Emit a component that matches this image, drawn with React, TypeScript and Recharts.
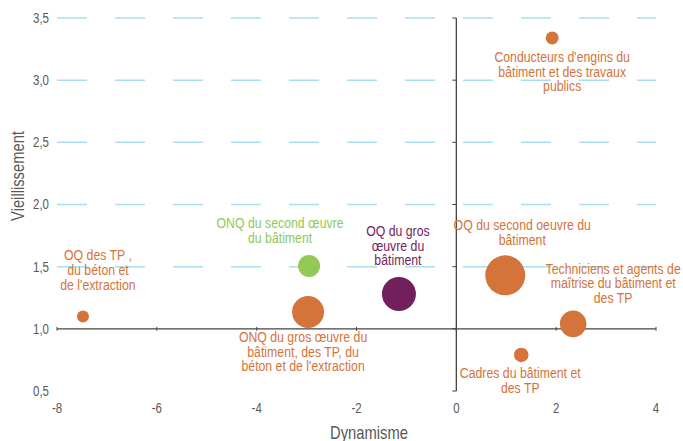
import { ScatterChart, Scatter, XAxis, YAxis, ZAxis, ReferenceLine, Cell } from "recharts";

// Métiers du bâtiment et des TP : dynamisme vs vieillissement, taille = effectifs
const metiers = [
    "OQ des TP, du béton et de l'extraction",
    "ONQ du second œuvre du bâtiment",
    "ONQ du gros œuvre du bâtiment, des TP, du béton et de l'extraction",
    "OQ du gros œuvre du bâtiment",
    "OQ du second oeuvre du bâtiment",
    "Conducteurs d'engins du bâtiment et des travaux publics",
    "Techniciens et agents de maîtrise du bâtiment et des TP",
    "Cadres du bâtiment et des TP",
];
const dynamisme = [-7.48, -2.95, -2.97, -1.15, 0.98, 1.92, 2.34, 1.3];
const vieillissement = [1.1, 1.505, 1.135, 1.28, 1.43, 3.34, 1.04, 0.79];
const effectifs = [36, 121, 256, 289, 400, 42, 177, 53];
const famille = ["tp", "onq", "tp", "oq", "tp", "tp", "tp", "tp"];

// libellés affichés (retours à la ligne comme sur le graphique)
const libelles = [
    ["OQ des TP ,", "du béton et", "de l'extraction"],
    ["ONQ du second œuvre", "du bâtiment"],
    ["ONQ du gros œuvre du", "bâtiment, des TP, du", "béton et de l'extraction"],
    ["OQ du gros", "œuvre du", "bâtiment"],
    ["OQ du second oeuvre du", "bâtiment"],
    ["Conducteurs d'engins du", "bâtiment et des travaux", "publics"],
    ["Techniciens et agents de", "maîtrise du bâtiment et", "des TP"],
    ["Cadres du bâtiment et", "des TP"],
];

const xTicks = [-8, -6, -4, -2, 0, 2, 4];
const yTicks = [0.5, 1.0, 1.5, 2.0, 2.5, 3.0, 3.5];
const gridValues = [1.5, 2.0, 2.5, 3.0, 3.5];

// layout only: offset of first label line from the bubble centre
const labelOffsets = [
    [15, -61], [-29, -43], [-5, 25], [-1, -63],
    [17, -50], [10, 19], [40, -55], [-1, 18],
];

const colors: Record<string, string> = { tp: "#d4733a", onq: "#92c955", oq: "#721f5e" };
const FONT = "'Liberation Sans', Arial, sans-serif";
const NARROW = 0.82; // no narrow font installed: squeeze Liberation Sans horizontally

const data = metiers.map((name, i) => ({
    name,
    x: dynamisme[i],
    y: vieillissement[i],
    z: effectifs[i],
    i,
}));

const fmt = (v: number) => v.toFixed(1).replace(".", ",");

// text drawn narrow (like Arial Narrow)
const NText = ({ x, y, rotate = 0, anchor = "middle", size = 14, color = "#595959", children }: any) => (
    <text
        transform={`translate(${x},${y}) rotate(${rotate}) scale(${NARROW},1)`}
        x={0}
        y={0}
        textAnchor={anchor}
        dominantBaseline="central"
        fontSize={size}
        fontFamily={FONT}
        fill={color}
    >
        {children}
    </text>
);

const XTick = (p: any) => (
    <NText x={p.x} y={p.y + 9}>{p.payload.value}</NText>
);
const YTick = (p: any) => (
    <NText x={p.x} y={p.y} anchor="end">{fmt(p.payload.value)}</NText>
);

const Bubble = (props: any) => {
    const { cx, cy, payload, size, width } = props;
    const r = size != null ? Math.sqrt(size / Math.PI) : width / 2;
    const i = payload.i;
    const col = colors[famille[i]];
    const [dx, dy] = labelOffsets[i];
    return (
        <g>
            <circle cx={cx} cy={cy} r={r} fill={col} />
            {libelles[i].map((l, k) => (
                <NText key={k} x={cx + dx} y={cy + dy + k * 14.7} size={15} color={col}>
                    {l}
                </NText>
            ))}
        </g>
    );
};

export default function App() {
    return (
        <div style={{ position: "absolute", left: 0, top: 0, background: "#fff" }}>
            <ScatterChart width={683} height={441} margin={{ top: 18, right: 27, bottom: 0, left: 0 }}>
                <XAxis
                    type="number"
                    dataKey="x"
                    domain={[-8, 4]}
                    ticks={xTicks}
                    axisLine={false}
                    tickLine={false}
                    height={50}
                    tick={<XTick />}
                    label={{
                        content: ({ viewBox }: any) => (
                            <NText x={369} y={viewBox.y + 41} size={18}>Dynamisme</NText>
                        ),
                    }}
                />
                <YAxis
                    type="number"
                    dataKey="y"
                    domain={[0.5, 3.5]}
                    ticks={yTicks}
                    axisLine={false}
                    tickLine={false}
                    width={57}
                    tick={<YTick />}
                    label={{
                        content: () => (
                            <NText x={17} y={176} rotate={-90} size={18}>Vieillissement</NText>
                        ),
                    }}
                />
                <ZAxis type="number" dataKey="z" domain={[0, 400]} range={[0, 1257]} />
                {gridValues.map((v) => (
                    <ReferenceLine key={v} y={v} stroke="#a9dff0" strokeWidth={1.5} strokeDasharray="30 28" />
                ))}
                <ReferenceLine y={1} stroke="#444" strokeWidth={1.3} />
                <ReferenceLine x={0} stroke="#444" strokeWidth={1.3} />
                {xTicks.map((t) => (
                    <ReferenceLine key={"xt" + t} segment={[{ x: t, y: 0.985 }, { x: t, y: 1.015 }]} stroke="#444" />
                ))}
                {yTicks.map((t) => (
                    <ReferenceLine key={"yt" + t} segment={[{ x: -0.08, y: t }, { x: 0, y: t }]} stroke="#444" />
                ))}
                <Scatter data={data} shape={<Bubble />} isAnimationActive={false}>
                    {data.map((d) => (
                        <Cell key={d.i} fill={colors[famille[d.i]]} />
                    ))}
                </Scatter>
            </ScatterChart>
        </div>
    );
}
